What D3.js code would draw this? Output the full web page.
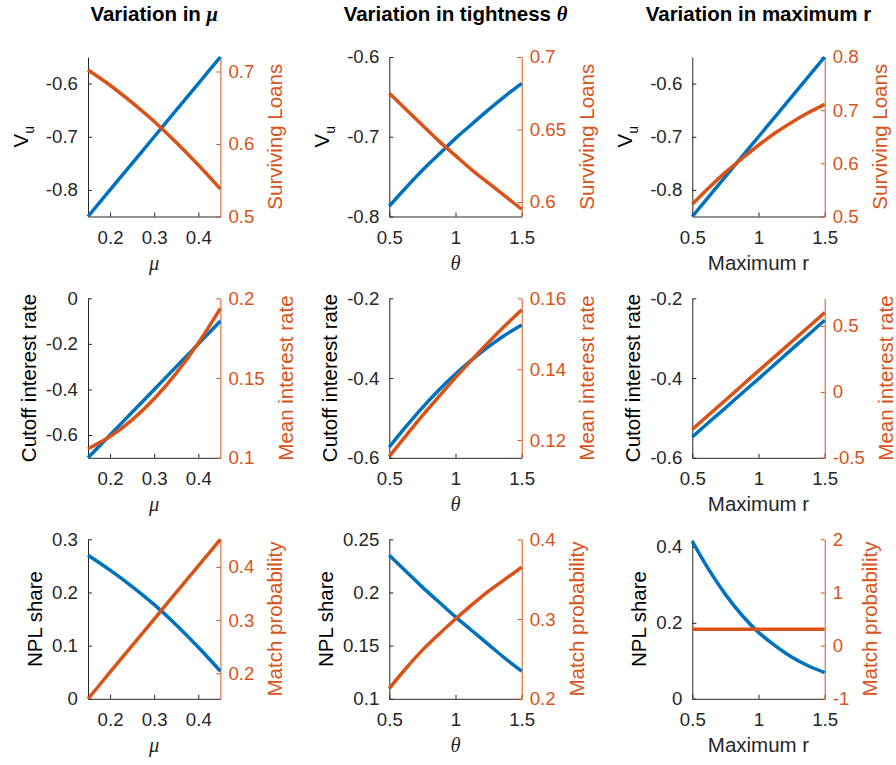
<!DOCTYPE html>
<html lang="en">
<head>
<meta charset="utf-8">
<title>Variation panels</title>
<script src="https://cdnjs.cloudflare.com/ajax/libs/d3/7.8.5/d3.min.js"></script>
<style>
    body { margin: 0; background: #fff; }
    svg { display: block; }
    .tick text { font-family: "Liberation Sans", Arial, sans-serif; font-size: 18.67px; }
    .lbl { font-family: "Liberation Sans", Arial, sans-serif; font-size: 20.5px; }
</style>
</head>
<body>
<div id="chart"></div>
<script>
    // x grids
    var xMu = [0.15, 0.20, 0.25, 0.30, 0.35, 0.40, 0.45];
    var xTheta = [0.5, 0.625, 0.75, 0.875, 1.0, 1.125, 1.25, 1.375, 1.5];
    var xMaxR = [0.5, 0.625, 0.75, 0.875, 1.0, 1.125, 1.25, 1.375, 1.5];

    // row 1: V_u (left) and surviving loans (right)
    var vuMu = [-0.85, -0.80, -0.75, -0.70, -0.65, -0.60, -0.55];
    var survMu = [0.702, 0.681, 0.657, 0.631, 0.602, 0.571, 0.538];
    var vuTheta = [-0.787, -0.764, -0.742, -0.722, -0.702, -0.684, -0.666, -0.649, -0.633];
    var survTheta = [0.675, 0.664, 0.653, 0.642, 0.632, 0.622, 0.613, 0.604, 0.595];
    var vuMaxR = [-0.85, -0.8125, -0.775, -0.7375, -0.70, -0.6625, -0.625, -0.5875, -0.55];
    var survMaxR = [0.523, 0.554, 0.583, 0.609, 0.634, 0.657, 0.677, 0.695, 0.711];

    // row 2: cutoff rate (left) and mean rate (right)
    var cutoffMu = [-0.70, -0.60, -0.50, -0.40, -0.30, -0.20, -0.10];
    var meanRateMu = [0.1057, 0.1133, 0.1238, 0.1370, 0.1531, 0.1720, 0.1937];
    var cutoffTheta = [-0.573, -0.522, -0.474, -0.430, -0.390, -0.354, -0.321, -0.292, -0.267];
    var meanRateTheta = [0.1154, 0.1212, 0.1269, 0.1323, 0.1376, 0.1427, 0.1476, 0.1523, 0.1568];
    var cutoffMaxR = [-0.548, -0.511, -0.475, -0.438, -0.402, -0.365, -0.328, -0.292, -0.255];
    var meanRateMaxR = [-0.284, -0.173, -0.063, 0.048, 0.159, 0.269, 0.380, 0.490, 0.601];

    // row 3: NPL share (left) and match probability (right)
    var nplMu = [0.270, 0.242, 0.211, 0.177, 0.139, 0.097, 0.052];
    var matchMu = [0.152, 0.202, 0.252, 0.302, 0.352, 0.402, 0.452];
    var nplTheta = [0.235, 0.220, 0.205, 0.191, 0.177, 0.164, 0.151, 0.138, 0.126];
    var matchTheta = [0.213, 0.238, 0.261, 0.281, 0.300, 0.318, 0.335, 0.350, 0.365];
    var nplMaxR = [0.415, 0.340, 0.275, 0.220, 0.175, 0.140, 0.110, 0.087, 0.069];
    var matchMaxR = [0.31, 0.31, 0.31, 0.31, 0.31, 0.31, 0.31, 0.31, 0.31];

    // tick labels
    var xTicksMu = [0.2, 0.3, 0.4];
    var xTicksR = [0.5, 1, 1.5];
    var vuTicks = [-0.8, -0.7, -0.6];
    var survTicksMu = [0.5, 0.6, 0.7];
    var survTicksTheta = [0.6, 0.65, 0.7];
    var survTicksMaxR = [0.5, 0.6, 0.7, 0.8];
    var cutoffTicksMu = [-0.6, -0.4, -0.2, 0];
    var cutoffTicksR = [-0.6, -0.4, -0.2];
    var meanTicksMu = [0.1, 0.15, 0.2];
    var meanTicksTheta = [0.12, 0.14, 0.16];
    var meanTicksMaxR = [-0.5, 0, 0.5];
    var nplTicksMu = [0, 0.1, 0.2, 0.3];
    var nplTicksTheta = [0.1, 0.15, 0.2, 0.25];
    var nplTicksMaxR = [0, 0.2, 0.4];
    var matchTicks = [0.2, 0.3, 0.4];
    var matchTicksMaxR = [-1, 0, 1, 2];

    var titles = ["Variation in ", "Variation in tightness ", "Variation in maximum r"];
    var titleSymbols = ["\u03bc", "\u03b8", ""];

    var W = 896, H = 765;
    var colLeft = [88, 389.3, 692.3], rowTop = [57, 298.3, 539.3];
    var pw = 132.4, ph = 159.5;
    var blue = "#0072BD", orange = "#D95319", ink = "#262626";

    var svg = d3.select("#chart").append("svg")
        .attr("width", W)
        .attr("height", H);

    var panels = [
        {row: 0, col: 0, xs: xMu, left: vuMu, right: survMu, xDom: [0.15, 0.45], lDom: [-0.85, -0.55], rDom: [0.5, 0.72],
            xTicks: xTicksMu, lTicks: vuTicks, rTicks: survTicksMu, lLabel: "Vu", rLabel: "Surviving Loans", xLabel: "mu"},
        {row: 0, col: 1, xs: xTheta, left: vuTheta, right: survTheta, xDom: [0.5, 1.5], lDom: [-0.8, -0.6], rDom: [0.59, 0.7],
            xTicks: xTicksR, lTicks: vuTicks, rTicks: survTicksTheta, lLabel: "Vu", rLabel: "Surviving Loans", xLabel: "theta"},
        {row: 0, col: 2, xs: xMaxR, left: vuMaxR, right: survMaxR, xDom: [0.5, 1.5], lDom: [-0.85, -0.55], rDom: [0.5, 0.8],
            xTicks: xTicksR, lTicks: vuTicks, rTicks: survTicksMaxR, lLabel: "Vu", rLabel: "Surviving Loans", xLabel: "Maximum r"},
        {row: 1, col: 0, xs: xMu, left: cutoffMu, right: meanRateMu, xDom: [0.15, 0.45], lDom: [-0.7, 0], rDom: [0.1, 0.2],
            xTicks: xTicksMu, lTicks: cutoffTicksMu, rTicks: meanTicksMu, lLabel: "Cutoff interest rate", rLabel: "Mean interest rate", xLabel: "mu"},
        {row: 1, col: 1, xs: xTheta, left: cutoffTheta, right: meanRateTheta, xDom: [0.5, 1.5], lDom: [-0.6, -0.2], rDom: [0.115, 0.16],
            xTicks: xTicksR, lTicks: cutoffTicksR, rTicks: meanTicksTheta, lLabel: "Cutoff interest rate", rLabel: "Mean interest rate", xLabel: "theta"},
        {row: 1, col: 2, xs: xMaxR, left: cutoffMaxR, right: meanRateMaxR, xDom: [0.5, 1.5], lDom: [-0.6, -0.2], rDom: [-0.5, 0.71],
            xTicks: xTicksR, lTicks: cutoffTicksR, rTicks: meanTicksMaxR, lLabel: "Cutoff interest rate", rLabel: "Mean interest rate", xLabel: "Maximum r"},
        {row: 2, col: 0, xs: xMu, left: nplMu, right: matchMu, xDom: [0.15, 0.45], lDom: [0, 0.3], rDom: [0.152, 0.452],
            xTicks: xTicksMu, lTicks: nplTicksMu, rTicks: matchTicks, lLabel: "NPL share", rLabel: "Match probability", xLabel: "mu"},
        {row: 2, col: 1, xs: xTheta, left: nplTheta, right: matchTheta, xDom: [0.5, 1.5], lDom: [0.1, 0.25], rDom: [0.2, 0.4],
            xTicks: xTicksR, lTicks: nplTicksTheta, rTicks: matchTicks, lLabel: "NPL share", rLabel: "Match probability", xLabel: "theta"},
        {row: 2, col: 2, xs: xMaxR, left: nplMaxR, right: matchMaxR, xDom: [0.5, 1.5], lDom: [0, 0.42], rDom: [-1, 2],
            xTicks: xTicksR, lTicks: nplTicksMaxR, rTicks: matchTicksMaxR, lLabel: "NPL share", rLabel: "Match probability", xLabel: "Maximum r"}
    ];

    // column titles
    titles.forEach(function (t, i) {
        var txt = svg.append("text")
            .attr("class", "lbl")
            .attr("x", colLeft[i] + pw / 2)
            .attr("y", 21)
            .attr("text-anchor", "middle")
            .attr("font-weight", "bold")
            .attr("fill", "#000")
            .text(t);
        if (titleSymbols[i]) {
            txt.append("tspan")
                .attr("font-family", "'Liberation Serif', 'Times New Roman', serif")
                .attr("font-style", "italic")
                .text(titleSymbols[i]);
        }
    });

    panels.forEach(drawPanel);

    function drawPanel(p) {
        var g = svg.append("g")
            .attr("transform", "translate(" + colLeft[p.col] + "," + rowTop[p.row] + ")");

        var x = d3.scaleLinear().domain(p.xDom).range([0, pw]);
        var yl = d3.scaleLinear().domain(p.lDom).range([ph, 0]);
        var yr = d3.scaleLinear().domain(p.rDom).range([ph, 0]);
        var fmt = function (d) { return String(d); };

        var gx = g.append("g")
            .attr("transform", "translate(0," + ph + ")")
            .style("color", ink)
            .call(d3.axisBottom(x).tickValues(p.xTicks).tickFormat(fmt).tickSizeInner(-4).tickSizeOuter(0).tickPadding(14));

        var gl = g.append("g")
            .style("color", ink)
            .call(d3.axisLeft(yl).tickValues(p.lTicks).tickFormat(fmt).tickSizeInner(-4).tickSizeOuter(0).tickPadding(10));

        var gr = g.append("g")
            .attr("transform", "translate(" + pw + ",0)")
            .style("color", orange)
            .call(d3.axisRight(yr).tickValues(p.rTicks).tickFormat(fmt).tickSizeInner(-4).tickSizeOuter(0).tickPadding(8));

        // left y label, placed left of the tick labels
        var lb = gl.node().getBBox();
        var ll = g.append("text")
            .attr("class", "lbl")
            .attr("fill", "#000")
            .attr("text-anchor", "middle");
        if (p.lLabel === "Vu") {
            ll.attr("transform", "translate(" + (lb.x - 18) + "," + (ph / 2) + ") rotate(-90)");
            ll.append("tspan").text("V");
            ll.append("tspan").attr("dy", 6).style("font-size", "14px").text("u");
        } else {
            ll.attr("transform", "translate(" + (lb.x - 10) + "," + (ph / 2) + ") rotate(-90)")
                .text(p.lLabel);
        }

        // right y label
        var rb = gr.node().getBBox();
        g.append("text")
            .attr("class", "lbl")
            .attr("fill", orange)
            .attr("text-anchor", "middle")
            .attr("transform", "translate(" + (pw + rb.x + rb.width + 28) + "," + (ph / 2) + ") rotate(-90)")
            .text(p.rLabel);

        // x label
        var xl = g.append("text")
            .attr("class", "lbl")
            .attr("x", pw / 2)
            .attr("y", ph + 53)
            .attr("text-anchor", "middle")
            .attr("fill", ink);
        if (p.xLabel === "mu" || p.xLabel === "theta") {
            xl.style("font-family", "'Liberation Serif', 'Times New Roman', serif")
                .style("font-style", "italic")
                .text(p.xLabel === "mu" ? "\u03bc" : "\u03b8");
        } else {
            xl.text(p.xLabel);
        }

        var lineL = d3.line()
            .curve(d3.curveMonotoneX)
            .x(function (d, i) { return x(p.xs[i]); })
            .y(function (d) { return yl(d); });
        var lineR = d3.line()
            .curve(d3.curveMonotoneX)
            .x(function (d, i) { return x(p.xs[i]); })
            .y(function (d) { return yr(d); });

        g.append("path")
            .datum(p.left)
            .attr("d", lineL)
            .attr("fill", "none")
            .attr("stroke", blue)
            .attr("stroke-width", 3.5);

        g.append("path")
            .datum(p.right)
            .attr("d", lineR)
            .attr("fill", "none")
            .attr("stroke", orange)
            .attr("stroke-width", 3.5);
    }
</script>
</body>
</html>
